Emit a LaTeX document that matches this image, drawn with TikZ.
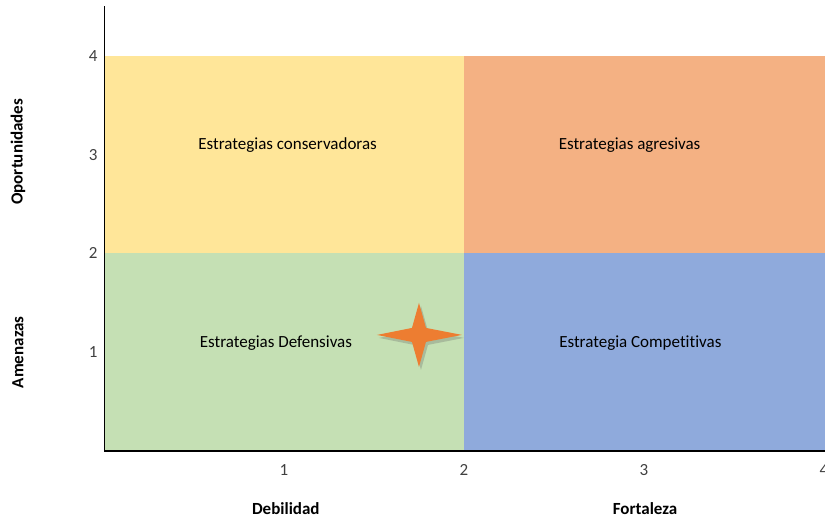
\documentclass[tikz,border=0pt]{standalone}
\usepackage{fontspec}
\setmainfont[Ligatures=NoCommon]{Carlito}
\usepackage{xcolor}
\usetikzlibrary{arrows.meta,positioning,shadows}

\definecolor{conserv}{HTML}{FFE699}
\definecolor{agres}{HTML}{F4B183}
\definecolor{defens}{HTML}{C5E0B4}
\definecolor{compet}{HTML}{8FAADC}
\definecolor{starcol}{HTML}{ED7D31}

\tikzset{
    lbl/.style={font=\fontsize{17}{20}\selectfont, inner sep=0pt},
    axtitle/.style={font=\fontsize{17}{20}\selectfont\bfseries, inner sep=0pt},
    tick/.style={font=\fontsize{17}{20}\selectfont, inner sep=0pt, text=black!75}
}

\begin{document}
\begin{tikzpicture}[x=180pt,y=98.75pt]
                \useasboundingbox (-0.578,-0.689) rectangle (4.006,4.567);
                \coordinate (O) at (0,0);
                \coordinate (Ytop) at (0,4.51);
                \coordinate (Xend) at (4.1,0);
                \coordinate (S) at (1.75,1.175);

                % quadrants
                \fill[defens] (0,0) rectangle (2,2);
                \fill[compet] (2,0) rectangle (4.1,2);
                \fill[conserv] (0,2) rectangle (2,4);
                \fill[agres] (2,2) rectangle (4.1,4);

                \node[lbl] (conserv) at (1.02,3.10) {Estrategias conservadoras};
                \node[lbl] (agres) at (2.92,3.10) {Estrategias agresivas};
                \node[lbl] (defens) at (0.955,1.09) {Estrategias Defensivas};
                \node[lbl] (compet) at (2.98,1.09) {Estrategia Competitivas};

                % axes
                \draw[line width=1pt] (O) -- (Ytop);
                \draw[line width=2pt] (O) -- (Xend);

                \foreach \k in {1,2,3,4} {
                    \node[tick, anchor=east] (yt\k) at (-0.035,\k) {\k};
                    \node[tick] (xt\k) at (\k,-0.195) {\k};
                }

                \node[axtitle] (debil) at (1.01,-0.587) {Debilidad};
                \node[axtitle] (fort) at (3.006,-0.587) {Fortaleza};
                \node[axtitle, rotate=90] (oport) at (-0.478,3.03) {Oportunidades};
                \node[axtitle, rotate=90] (amen) at (-0.478,1.0) {Amenazas};

                % star
                \fill[starcol, drop shadow={shadow xshift=2pt, shadow yshift=-3pt, opacity=0.3, fill=black!60}]
                    ([xshift=-42pt]S) -- ([xshift=-7pt, yshift=7pt]S)
                    -- ([yshift=32pt]S) -- ([xshift=7pt, yshift=7pt]S)
                    -- ([xshift=43pt]S) -- ([xshift=7pt, yshift=-7pt]S)
                    -- ([yshift=-32pt]S) -- ([xshift=-7pt, yshift=-7pt]S) -- cycle;
            \end{tikzpicture}
\end{document}
